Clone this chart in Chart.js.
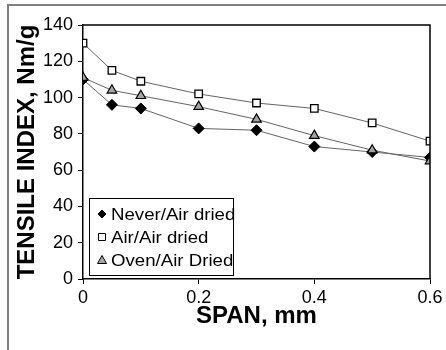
<!DOCTYPE html>
<html>
<head>
<meta charset="utf-8">
<script src="https://cdn.jsdelivr.net/npm/chart.js@4/dist/chart.umd.min.js"></script>
<style>
  body { margin: 0; background: #fff; }
</style>
</head>
<body>
<canvas id="myCanvas" width="446" height="350"></canvas>
<script>
// data
let spans = [0, 0.05, 0.1, 0.2, 0.3, 0.4, 0.5, 0.6]
let neverAir = [110, 96, 94, 83, 82, 73, 70, 67]
let airAir = [130, 115, 109, 102, 97, 94, 86, 76]
let ovenAir = [111, 104, 101, 95, 88, 79, 71, 65]
let seriesNames = ['Never/Air dried', 'Air/Air dried', 'Oven/Air Dried']
let xTicks = [0, 0.2, 0.4, 0.6]
let yTicks = [0, 20, 40, 60, 80, 100, 120, 140]

function pts(vals) {
    return spans.map((s, i) => ({x: s, y: vals[i]}))
}

const FONT = "'Liberation Sans', Arial, sans-serif"

// grey frame round the figure + box round the plot
let framePlugin = {
    id: 'frame',
    beforeDraw(chart) {
        let c = chart.ctx
        c.save()
        c.fillStyle = '#fff'
        c.fillRect(0, 0, chart.width, chart.height)
        c.strokeStyle = '#808080'
        c.lineWidth = 2
        c.beginPath()
        c.moveTo(8, chart.height)
        c.lineTo(8, 5)
        c.lineTo(chart.width, 5)
        c.stroke()
        c.restore()
    },
    afterDraw(chart) {
        let a = chart.chartArea
        let c = chart.ctx
        c.save()
        c.strokeStyle = '#000'
        c.lineWidth = 1.5
        c.beginPath()
        c.moveTo(a.left, a.top)
        c.lineTo(a.right, a.top)
        c.lineTo(a.right, a.bottom)
        c.stroke()
        c.restore()
    }
}

// legend box sitting inside the plot, lower left
let boxLegend = {
    id: 'boxLegend',
    afterDraw(chart) {
        let c = chart.ctx
        let bx = 89, by = 198, bw = 144, bh = 77
        c.save()
        c.fillStyle = '#fff'
        c.fillRect(bx, by, bw, bh)
        c.strokeStyle = '#000'
        c.lineWidth = 1
        c.strokeRect(bx + 0.5, by + 0.5, bw, bh)
        let rows = [214, 237, 260]
        let mx = 102
        rows.forEach((y, i) => {
            c.beginPath()
            c.lineWidth = 1
            c.strokeStyle = '#000'
            if (i === 0) {
                c.moveTo(mx, y - 4); c.lineTo(mx + 4, y); c.lineTo(mx, y + 4); c.lineTo(mx - 4, y); c.closePath()
                c.fillStyle = '#000'
            } else if (i === 1) {
                c.rect(mx - 3.5, y - 3.5, 7, 7)
                c.fillStyle = '#fff'
            } else {
                c.moveTo(mx, y - 4.5); c.lineTo(mx + 4.5, y + 3.5); c.lineTo(mx - 4.5, y + 3.5); c.closePath()
                c.fillStyle = '#a6a6a6'
            }
            c.fill()
            c.stroke()
            // text in the original is a bit wide, stretch it slightly
            c.save()
            c.translate(111, y + 1)
            c.scale(1.13, 1)
            c.fillStyle = '#000'
            c.font = '16.5px ' + FONT
            c.textBaseline = 'middle'
            c.fillText(seriesNames[i], 0, 0)
            c.restore()
        })
        c.restore()
    }
}

let grafic = document.querySelector('#myCanvas').getContext('2d')
let myChart = new Chart(grafic, {
    type: 'line',
    data: {
        datasets: [{
            label: seriesNames[0],
            data: pts(neverAir),
            borderColor: '#666',
            borderWidth: 1,
            pointStyle: 'rectRot',
            pointRadius: 5.5,
            pointBackgroundColor: '#000',
            pointBorderColor: '#000',
            order: 2
        }, {
            label: seriesNames[1],
            data: pts(airAir),
            borderColor: '#666',
            borderWidth: 1,
            pointStyle: 'rect',
            pointRadius: 5.3,
            pointBackgroundColor: '#fff',
            pointBorderColor: '#000',
            pointBorderWidth: 1.3,
            order: 1
        }, {
            label: seriesNames[2],
            data: pts(ovenAir),
            borderColor: '#666',
            borderWidth: 1,
            pointStyle: 'triangle',
            pointRadius: 5.5,
            pointBackgroundColor: '#a6a6a6',
            pointBorderColor: '#000',
            pointBorderWidth: 1.2,
            order: 0
        }]
    },
    options: {
        responsive: false,
        animation: false,
        layout: {padding: {top: 25, right: 16, left: 0, bottom: 0}},
        scales: {
            x: {
                type: 'linear',
                min: 0,
                max: 0.6,
                afterBuildTicks: s => { s.ticks = xTicks.map(v => ({value: v})) },
                afterFit: s => { s.height = 71 },
                grid: {drawOnChartArea: false, tickLength: 5, color: '#000'},
                border: {color: '#000', width: 1.5},
                ticks: {
                    color: '#000',
                    font: {family: FONT, size: 18},
                    padding: 3,
                    callback: v => String(v)
                },
                title: {
                    display: true,
                    text: 'SPAN, mm',
                    color: '#000',
                    font: {family: FONT, size: 24, weight: 'bold'},
                    padding: {top: 0, bottom: 19}
                }
            },
            y: {
                min: 0,
                max: 140,
                afterBuildTicks: s => { s.ticks = yTicks.map(v => ({value: v})) },
                afterFit: s => { s.width = 83 },
                grid: {drawOnChartArea: false, tickLength: 5, color: '#000'},
                border: {color: '#000', width: 1.5},
                ticks: {
                    color: '#000',
                    font: {family: FONT, size: 18},
                    padding: 5
                },
                title: {
                    display: true,
                    text: 'TENSILE INDEX, Nm/g',
                    color: '#000',
                    font: {family: FONT, size: 24, weight: 'bold'},
                    padding: {top: 13, bottom: 0}
                }
            }
        },
        plugins: {
            legend: {display: false},
            tooltip: {enabled: false}
        }
    },
    plugins: [framePlugin, boxLegend]
})
</script>
</body>
</html>
